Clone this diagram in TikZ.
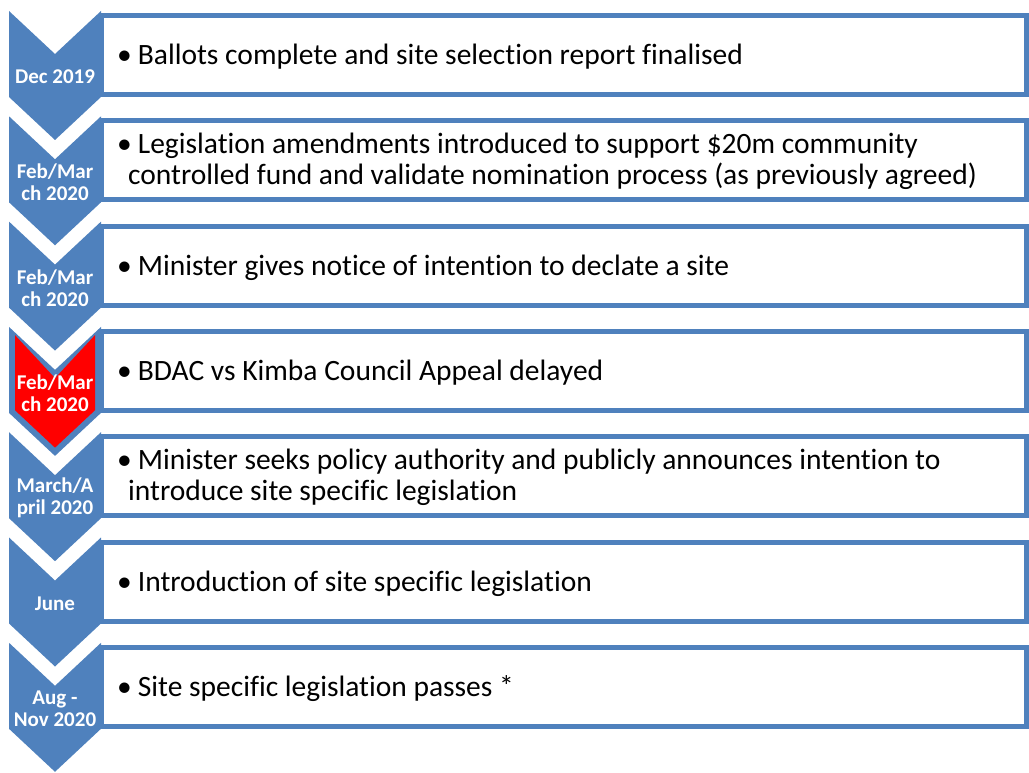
\documentclass[tikz,border=0pt]{standalone}
\usepackage{fontspec}
\setmainfont[Ligatures=NoCommon]{Carlito}
\definecolor{stepblue}{RGB}{79,129,189}
\definecolor{stepred}{RGB}{255,0,0}

% chevron with its top corners at height #1, pulled in by #2 on every side
\newcommand{\chevshape}[2]{%
  (9+#2,#1+1.37*#2)--(55,#1+43+1.37*#2)--(101-#2,#1+1.37*#2)--
  (101-#2,#1+86-0.44*#2)--(55,#1+129-1.37*#2)--(9+#2,#1+86-0.44*#2)--cycle}

\begin{document}
\begin{tikzpicture}[x=1pt,y=-1pt,
    itembox/.style={draw=stepblue,line width=5pt,fill=white},
    datelabel/.style={text=white,inner sep=0pt,align=center,
      font=\bfseries\fontsize{21}{22}\selectfont},
    itemlabel/.style={anchor=west,inner sep=0pt,align=left,
      font=\fontsize{29.5}{31}\selectfont}]

    \useasboundingbox(0,0)rectangle(1029,773);

    % boxes first, the chevrons sit on their left edges
    \foreach\i in{0,...,6}{
      \pgfmathsetmacro\T{11+105.3*\i}
      \draw[itembox](101,\T+4.5)rectangle(1026.5,\T+83.5);
      \fill[stepblue]\chevshape{\T}{0};
    }
    \fill[stepred]\chevshape{326.9}{6};

    \node[datelabel](date1)at(55,77){Dec 2019};
    \node[datelabel](date2)at(55,182){Feb/Mar\\ch 2020};
    \node[datelabel](date3)at(55,288){Feb/Mar\\ch 2020};
    \node[datelabel](date4)at(55,393){Feb/Mar\\ch 2020};
    \node[datelabel](date5)at(55,498){March/A\\pril 2020};
    \node[datelabel](date6)at(55,604){June};
    \node[datelabel](date7)at(55,709){Aug -\\Nov 2020};

    \node[itemlabel](item1)at(117,57){\textbullet\hspace{6pt}Ballots complete and site selection report finalised};
    \node[itemlabel](item2)at(117,161){\textbullet\hspace{6pt}Legislation amendments introduced to support \$20m community\\
      \hspace{11pt}controlled fund and validate nomination process (as previously agreed)};
    \node[itemlabel](item3)at(117,268){\textbullet\hspace{6pt}Minister gives notice of intention to declate a site};
    \node[itemlabel](item4)at(117,373){\textbullet\hspace{6pt}BDAC vs Kimba Council Appeal delayed};
    \node[itemlabel](item5)at(117,477){\textbullet\hspace{6pt}Minister seeks policy authority and publicly announces intention to\\
      \hspace{11pt}introduce site specific legislation};
    \node[itemlabel](item6)at(117,584){\textbullet\hspace{6pt}Introduction of site specific legislation};
    \node[itemlabel](item7)at(117,689){\textbullet\hspace{6pt}Site specific legislation passes *};
  \end{tikzpicture}
\end{document}
